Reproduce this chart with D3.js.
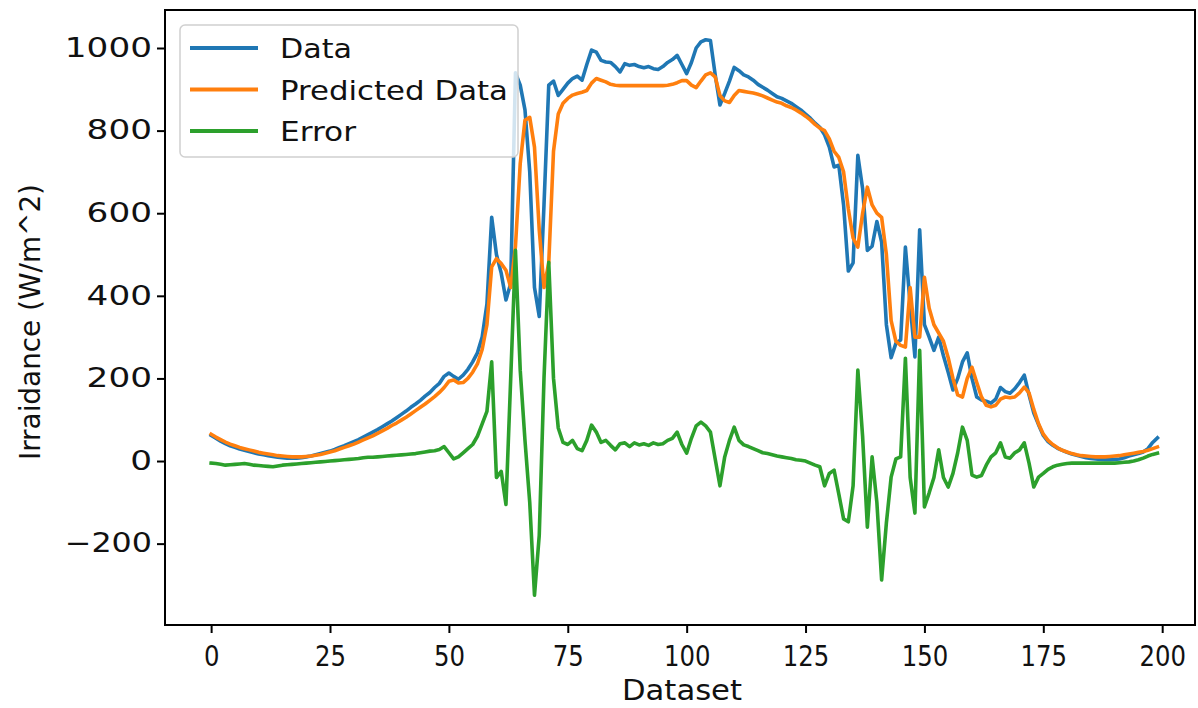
<!DOCTYPE html>
<html><head><meta charset="utf-8">
<script src="https://cdn.jsdelivr.net/npm/d3@7/dist/d3.min.js"></script>
<style>html,body{margin:0;padding:0;background:#fff;}</style>
</head><body>
<svg id="chart" width="1198" height="708"></svg>
<script>
const seriesNames = ["Data", "Predicted Data", "Error"];
const xTicks = [0, 25, 50, 75, 100, 125, 150, 175, 200];
const yTicks = [-200, 0, 200, 400, 600, 800, 1000];

const dataValues = [
62,55,48,42,37,33,29,26,23,20,17,15,13,11,9,8,7,7,7,8,
10,12,15,18,21,24,28,33,37,42,47,52,58,64,70,76,83,90,97,105,
113,121,130,138,147,157,166,178,188,205,213,205,198,208,222,240,262,300,380,590,
500,455,390,430,940,910,850,700,420,350,620,910,920,885,900,915,926,932,922,960,
995,990,970,966,965,955,942,962,958,960,955,952,955,950,948,955,965,972,982,960,
938,965,1000,1015,1020,1018,935,862,890,920,953,945,935,930,922,912,905,898,890,882,
878,872,866,858,850,840,830,818,808,790,760,712,716,620,460,480,740,660,510,520,
580,530,330,250,285,293,518,380,252,560,330,300,268,300,255,215,172,200,240,262,
200,155,148,145,140,150,178,168,164,175,190,208,160,116,88,62,47,38,31,26,
21,17,14,11,8,6,5,4,3,3,4,5,8,12,15,18,22,30,45,56];

const predictedValues = [
65,58,52,46,41,37,33,30,27,24,21,19,17,15,13,12,11,10,10,10,
11,12,14,16,19,22,25,29,33,37,41,46,51,56,61,67,73,79,86,92,
99,106,114,122,130,138,147,156,166,178,193,196,189,190,200,215,235,270,330,470,
490,478,462,420,520,720,825,832,760,560,420,480,750,840,866,878,886,890,893,897,
915,926,922,918,912,910,909,909,909,909,909,909,909,909,909,909,910,912,916,921,
921,910,904,920,935,940,930,885,872,868,885,897,895,893,891,888,884,879,874,869,
866,860,856,850,843,835,826,815,806,800,780,750,735,700,610,540,518,600,663,620,
600,590,500,340,290,280,276,420,300,300,445,370,330,310,290,250,200,160,155,200,
227,190,155,135,131,135,150,155,153,155,165,179,165,125,90,65,50,40,32,26,
22,18,15,13,12,11,10,10,10,11,12,13,15,17,19,21,23,26,30,34];

const errorValues = [
-5,-6,-8,-10,-9,-8,-7,-6,-8,-10,-11,-12,-13,-14,-12,-10,-9,-8,-7,-6,
-5,-4,-3,-2,-1,0,1,2,3,4,5,6,8,9,9,10,11,12,13,14,
15,16,17,18,20,22,24,25,28,35,20,5,10,20,30,40,60,90,120,240,
-40,-25,-105,200,510,220,50,-100,-325,-180,200,481,200,80,45,40,50,30,25,50,
87,70,45,50,38,27,42,44,35,44,39,42,38,44,40,42,50,55,70,40,
19,55,85,94,85,70,5,-60,10,50,82,50,39,35,30,25,20,18,15,12,
10,8,6,3,2,0,-5,-10,-14,-60,-30,-22,-80,-140,-147,-60,220,60,-160,10,
-100,-288,-150,-39,5,10,249,-40,-126,268,-111,-77,-40,27,-40,-63,-30,20,82,50,
-34,-39,-35,-10,10,20,44,10,7,20,27,44,-5,-63,-39,-30,-20,-14,-10,-8,
-6,-5,-5,-5,-5,-5,-5,-5,-5,-5,-5,-4,-3,-2,0,3,7,12,16,19];

const colors = ["#1f77b4", "#ff7f0e", "#2ca02c"];
const legendTextWidths = [72, 228, 76];

const svg = d3.select("#chart");
const L = 165, R = 1195, T = 10, B = 625;

const x = d3.scaleLinear().domain([-9.7, 206.9]).range([L, R]);
const y = d3.scaleLinear().domain([-397, 1092]).range([B, T]);

svg.append("rect").attr("x",0).attr("y",0).attr("width",1198).attr("height",708).attr("fill","#fff");

const line = d3.line().x((d,i)=>x(i)).y(d=>y(d));
const allSeries = [dataValues, predictedValues, errorValues];

const g = svg.append("g");
allSeries.forEach((s, k) => {
  g.append("path").datum(s)
    .attr("d", line)
    .attr("fill","none")
    .attr("stroke", colors[k])
    .attr("stroke-width", 3.6)
    .attr("stroke-linejoin","round")
    .attr("stroke-linecap","square");
});

// frame
svg.append("rect").attr("x",L).attr("y",T).attr("width",R-L).attr("height",B-T)
  .attr("fill","none").attr("stroke","#000").attr("stroke-width",2);

// x axis
const xAxis = svg.append("g").attr("transform",`translate(0,${B})`)
  .call(d3.axisBottom(x).tickValues(xTicks).tickSize(8).tickSizeOuter(0).tickFormat(d3.format("d")));
xAxis.select(".domain").remove();
xAxis.selectAll(".tick line").attr("stroke","#000").attr("stroke-width",2);
xAxis.selectAll(".tick text")
  .attr("font-family","'DejaVu Sans Condensed','DejaVu Sans',sans-serif")
  .attr("font-size",29).attr("fill","#111").attr("dy","1.05em")
  .each(function(d){ const n = String(d).length; d3.select(this).attr("textLength", n*15.5).attr("lengthAdjust","spacingAndGlyphs"); });

// y axis
const yAxis = svg.append("g").attr("transform",`translate(${L},0)`)
  .call(d3.axisLeft(y).tickValues(yTicks).tickSize(8).tickSizeOuter(0).tickFormat(d => d < 0 ? "\u2212" + Math.abs(d) : String(d)));
yAxis.select(".domain").remove();
yAxis.selectAll(".tick line").attr("stroke","#000").attr("stroke-width",2);
yAxis.selectAll(".tick text")
  .attr("font-family","'DejaVu Sans',sans-serif")
  .attr("font-size",26).attr("fill","#111").attr("x",-13)
  .each(function(d){ const n = String(Math.abs(d)).length + (d<0?1:0); d3.select(this).attr("textLength", n*21.8).attr("lengthAdjust","spacingAndGlyphs"); });

// axis labels
svg.append("text").attr("x", 682).attr("y", 700).attr("text-anchor","middle")
  .attr("font-family","'DejaVu Sans Condensed','DejaVu Sans',sans-serif")
  .attr("font-size",28).attr("fill","#111")
  .attr("textLength",120).attr("lengthAdjust","spacingAndGlyphs").text("Dataset");
svg.append("text").attr("transform","translate(40,322) rotate(-90)").attr("text-anchor","middle")
  .attr("font-family","'DejaVu Sans Condensed','DejaVu Sans',sans-serif")
  .attr("font-size",28).attr("fill","#111")
  .attr("textLength",276).attr("lengthAdjust","spacingAndGlyphs").text("Irraidance (W/m^2)");

// legend
const lg = svg.append("g");
lg.append("rect").attr("x",180).attr("y",25).attr("width",338).attr("height",132).attr("rx",5)
  .attr("fill","#fff").attr("fill-opacity",0.8).attr("stroke","#d0d0d0").attr("stroke-width",1.5);
seriesNames.forEach((name,k) => {
  const yy = 48 + k*41.5;
  lg.append("line").attr("x1",190).attr("x2",258).attr("y1",yy).attr("y2",yy)
    .attr("stroke",colors[k]).attr("stroke-width",4);
  lg.append("text").attr("x",280).attr("y",yy+10)
    .attr("font-family","'DejaVu Sans',sans-serif").attr("font-size",27).attr("fill","#111")
    .attr("textLength",legendTextWidths[k]).attr("lengthAdjust","spacingAndGlyphs")
    .text(name);
});
</script>
</body></html>
